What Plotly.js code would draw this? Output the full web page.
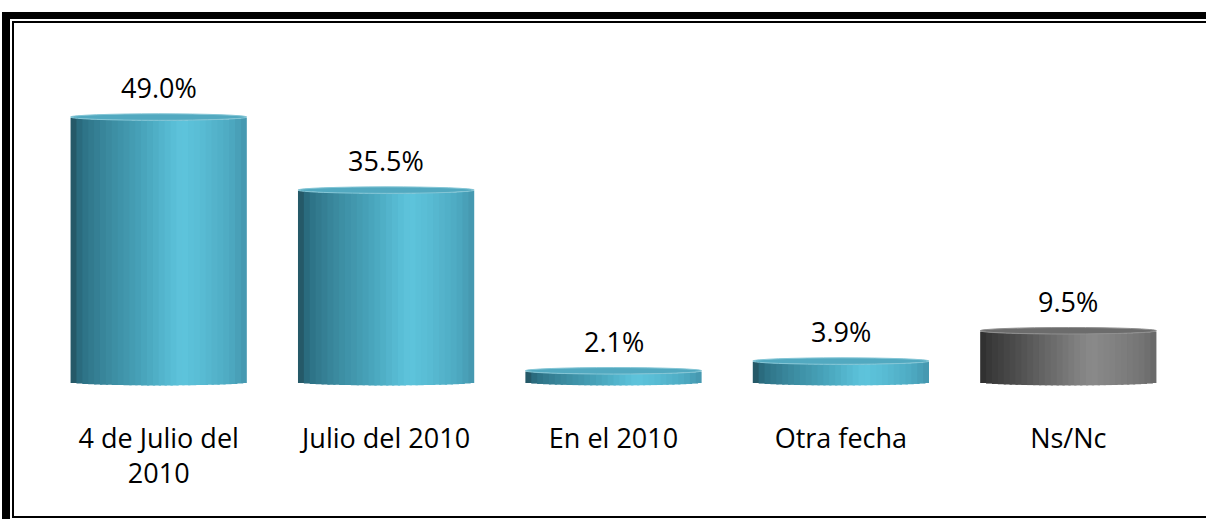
<!DOCTYPE html>
<html>
<head>
<meta charset="utf-8">
<script src="https://cdn.plot.ly/plotly-3.0.1.min.js"></script>
<style>
  html, body { margin: 0; padding: 0; width: 1206px; height: 519px; overflow: hidden; background: #fff; }
  #frame-outer { position: absolute; left: 2px; top: 12px; width: 1204px; height: 507px;
                 border-left: 8px solid #000; border-top: 7px solid #000; box-sizing: border-box; }
  #frame-inner { position: absolute; left: 12px; top: 21px; width: 1194px; height: 497px;
                 border-left: 2px solid #000; border-top: 2px solid #000; border-bottom: 2px solid #000; box-sizing: border-box; }
  #chart { position: absolute; left: 0; top: 0; width: 1206px; height: 519px; }
</style>
</head>
<body>
<div id="frame-outer"></div>
<div id="frame-inner"></div>
<div id="chart"></div>
<script>
// data
var categories = ['4 de Julio del<br>2010', 'Julio del 2010', 'En el 2010', 'Otra fecha', 'Ns/Nc'];
var values = [49.0, 35.5, 2.1, 3.9, 9.5];
var valueLabels = ['49.0%', '35.5%', '2.1%', '3.9%', '9.5%'];
var isGray = [false, false, false, false, true];

// cylinder look: vertical strips with a shaded colour ramp
var tealStops = [[0, '#22505d'], [0.06, '#2c7084'], [0.2, '#3a889d'], [0.4, '#47a2b9'], [0.55, '#56b9d1'],
                 [0.63, '#5ec4dc'], [0.75, '#58bbd3'], [0.9, '#4eaac2'], [1, '#4496ad']];
var grayStops = [[0, '#2e2e2e'], [0.06, '#3a3a3a'], [0.2, '#4c4c4c'], [0.4, '#6a6a6a'], [0.55, '#808080'],
                 [0.63, '#8a8a8a'], [0.75, '#828282'], [0.9, '#767676'], [1, '#686868']];

function hexToRgb(h) {
    return [parseInt(h.substr(1, 2), 16), parseInt(h.substr(3, 2), 16), parseInt(h.substr(5, 2), 16)];
}
function ramp(stops, t) {
    for (var k = 1; k < stops.length; k++) {
        if (t <= stops[k][0]) {
            var a = stops[k - 1], b = stops[k];
            var f = (t - a[0]) / (b[0] - a[0]);
            var ca = hexToRgb(a[1]), cb = hexToRgb(b[1]);
            return 'rgb(' + ca.map(function (v, j) { return Math.round(v + (cb[j] - v) * f); }).join(',') + ')';
        }
    }
    return stops[stops.length - 1][1];
}

var barWidth = 0.775;
var nStrips = 30;
var capHalf = 0.6;   // half height of the elliptical caps, in data units

var traces = [];
for (var i = 0; i < nStrips; i++) {
    var t = (i + 0.5) / nStrips;
    var u = 2 * t - 1;
    var curve = capHalf * Math.sqrt(Math.max(0, 1 - u * u));
    var off = -barWidth / 2 + i * barWidth / nStrips;
    var w = Math.min(barWidth / nStrips * 1.4, barWidth / 2 - off);
    traces.push({
        type: 'bar',
        x: categories,
        y: values,
        base: values.map(function () { return -curve; }),
        width: w,
        offset: off,
        marker: {
            color: isGray.map(function (g) { return g ? ramp(grayStops, t) : ramp(tealStops, t); }),
            line: { width: 0 }
        },
        hoverinfo: 'skip',
        showlegend: false
    });
}

// elliptical tops of the cylinders
var shapes = values.map(function (v, k) {
    return {
        type: 'circle', xref: 'x', yref: 'y',
        x0: k - barWidth / 2, x1: k + barWidth / 2,
        y0: v - capHalf, y1: v + capHalf,
        fillcolor: isGray[k] ? '#6c6c6c' : '#52a9c0',
        line: { color: isGray[k] ? '#909090' : '#84c6d6', width: 1 }
    };
});

var annotations = values.map(function (v, k) {
    return {
        x: categories[k], y: v + capHalf, xref: 'x', yref: 'y',
        text: valueLabels[k], showarrow: false,
        yanchor: 'bottom', yshift: 6,
        font: { family: 'Open Sans, sans-serif', size: 27, color: '#000' }
    };
});

Plotly.newPlot('chart', traces, {
    width: 1206,
    height: 519,
    margin: { l: 45, r: 24, t: 30, b: 126 },
    barmode: 'overlay',
    paper_bgcolor: 'rgba(0,0,0,0)',
    plot_bgcolor: 'rgba(0,0,0,0)',
    xaxis: {
        type: 'category',
        range: [-0.5, 4.5],
        showgrid: false, zeroline: false, showline: false, ticks: '',
        ticklabelstandoff: 27,
        tickfont: { family: 'Open Sans, sans-serif', size: 27, color: '#000' }
    },
    yaxis: {
        range: [-2, 65.09],
        visible: false, showgrid: false, zeroline: false
    },
    shapes: shapes,
    annotations: annotations
}, { displayModeBar: false, staticPlot: true });
</script>
</body>
</html>
